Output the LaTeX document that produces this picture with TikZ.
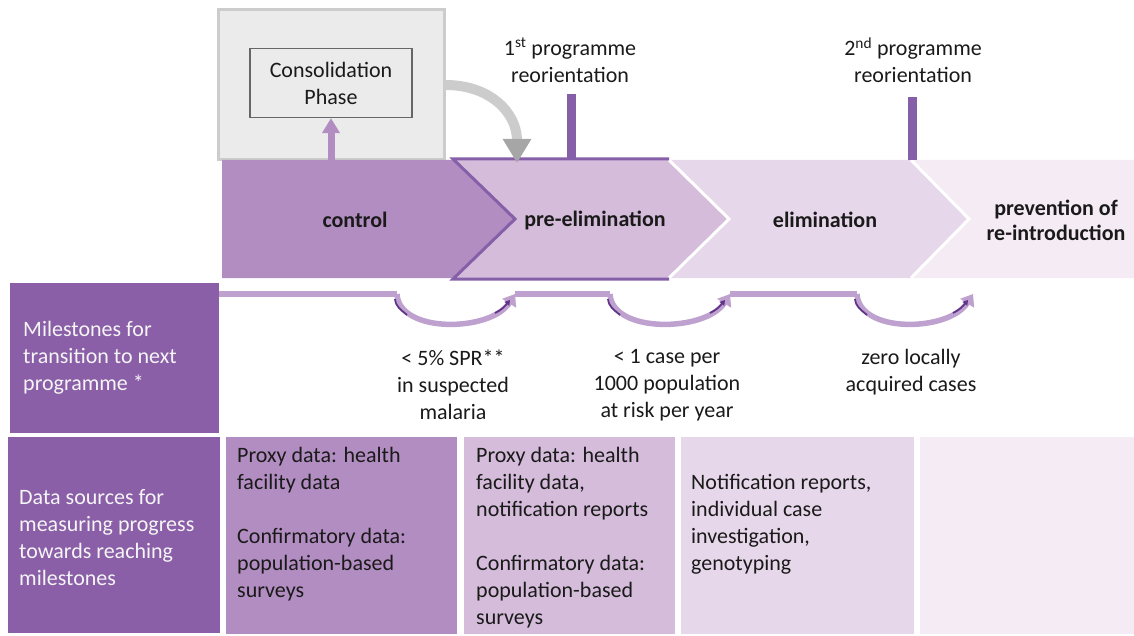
\documentclass[tikz,border=0pt]{standalone}
\usepackage{fontspec}
\setmainfont{Carlito}
\usepackage{xcolor}
\usetikzlibrary{arrows.meta,positioning,calc}

\definecolor{headpurple}{HTML}{8A5FA8}
\definecolor{ctrlpurple}{HTML}{B28DC1}
\definecolor{prepurple}{HTML}{D4BCDA}
\definecolor{elimpurple}{HTML}{E7D7EA}
\definecolor{prevpurple}{HTML}{F5EBF4}
\definecolor{edgepurple}{HTML}{8560A8}
\definecolor{arcpurple}{HTML}{BFA1CF}
\definecolor{arcdark}{HTML}{5F3489}
\definecolor{consolgray}{HTML}{EBEBEB}
\definecolor{inktext}{HTML}{1A1A1A}

\begin{document}
\begin{tikzpicture}[
  x=1pt, y=-1pt,
  every node/.style={font=\fontsize{22}{27}\selectfont, text=inktext},
  consolbox/.style={draw=black!20, line width=3pt, fill=consolgray, minimum width=226pt, minimum height=150pt},
  phasebox/.style={draw=black!60, line width=1.2pt, fill=consolgray, minimum width=162pt, minimum height=69pt, align=center},
  bandtext/.style={font=\fontsize{22}{25}\selectfont\bfseries, align=center},
  reotext/.style={align=center},
  reobar/.style={edgepurple, line width=9pt},
  headbox/.style={fill=headpurple, inner sep=0pt},
  headtext/.style={text=white!96!black, align=left, anchor=west, inner sep=0pt},
  cell/.style={minimum height=197pt, inner sep=0pt},
  celltext/.style={align=left, anchor=north west, inner sep=0pt},
  miletext/.style={align=center},
  milearc/.style={arcpurple, line width=5.5pt, -{Triangle[width=16pt,length=11pt]}},
  arcshade/.style={arcdark, line width=1.8pt},
  uparrow/.style={ctrlpurple, line width=7pt, -{Triangle[width=17pt,length=15pt]}},
  grayarrow/.style={black!20, line width=10pt, -{Triangle[width=27pt,length=24pt,color=black!35]}}
]
  \useasboundingbox (0,0) rectangle (1134,636);

  % Consolidation phase
  \node[consolbox] (consol) at (331,85) {};
  \node[phasebox] (phase) at (331,83) {Consolidation\\Phase};

  % Programme band
  \fill[ctrlpurple] (222,160) -- (453,160) -- (515,219) -- (453,278) -- (222,278) -- cycle;
  \fill[prepurple] (453,160) -- (669,160) -- (729,219) -- (669,278) -- (453,278) -- (515,219) -- cycle;
  \fill[elimpurple] (669,160) -- (911,160) -- (969,219) -- (911,278) -- (669,278) -- (729,219) -- cycle;
  \fill[prevpurple] (911,160) -- (1134,160) -- (1134,278) -- (911,278) -- (969,219) -- cycle;
  \draw[white, line width=3pt] (669,160) -- (729,219) -- (669,278);
  \draw[white, line width=3pt] (911,160) -- (969,219) -- (911,278);
  \draw[edgepurple, line width=3pt] (669,159) -- (453,159) -- (515,219) -- (453,279) -- (669,279);

  \node[bandtext] (control) at (355,220) {control};
  \node[bandtext] (preelim) at (595,220) {pre-elimination};
  \node[bandtext] (elim) at (825,220) {elimination};
  \node[bandtext] (prev) at (1056,220) {prevention of\\re-introduction};

  % Arrows to and from consolidation
  \coordinate (ctrltop) at (331,160);
  \coordinate (grayend) at (517,163);
  \draw[uparrow] (ctrltop) -- (phase.south);
  \draw[grayarrow] (consol.east) .. controls +(45,0) and +(0,-50) .. (grayend);

  % Programme reorientations
  \node[reotext] (reo1) at (570,60) {1\textsuperscript{st} programme\\reorientation};
  \node[reotext] (reo2) at (913,60) {2\textsuperscript{nd} programme\\reorientation};
  \coordinate (reo1bar) at (571.5,94);
  \coordinate (reo2bar) at (912.5,97);
  \draw[reobar] (reo1bar) -- (reo1bar |- 0,158);
  \draw[reobar] (reo2bar) -- (reo2bar |- 0,160);

  % Row headers
  \node[headbox, minimum width=209pt, minimum height=150pt] (milebox) at (114.5,358) {};
  \node[headbox, minimum width=212pt, minimum height=196pt] (databox) at (114,535) {};
  \node[headtext] (miletext) at (23,358) {Milestones for\\transition to next\\programme *};
  \node[headtext] (datatext) at (19,538) {Data sources for\\measuring progress\\towards reaching\\milestones};

  % Milestone arcs
  \coordinate (mstart) at (milebox.east |- 0,294);
  \foreach \n/\a/\b in {1/397/515, 2/610/730, 3/857/973} {
    \coordinate (ms\n a) at (\a,294);
    \coordinate (ms\n b) at (\b,294);
    \draw[milearc] (ms\n a) .. controls +(2,40) and +(-24,38) .. (ms\n b);
    \draw[arcshade] ($(ms\n a)+(-2,5)$) .. controls +(1,8) and +(-7,-6) .. ($(ms\n a)+(10,21)$);
    \draw[arcshade, -{Triangle[width=6pt,length=5pt]}] ($(ms\n b)+(-20,19)$) .. controls +(8,-4) and +(-5,6) .. ($(ms\n b)+(-5,6)$);
  }
  \draw[arcpurple, line width=5.5pt] (mstart) -- (ms1a);
  \draw[arcpurple, line width=5.5pt] (ms1b) -- (ms2a);
  \draw[arcpurple, line width=5.5pt] (ms2b) -- (ms3a);

  \node[miletext] (mile1) at (453,385) {< 5\% SPR**\\in suspected\\malaria};
  \node[miletext] (mile2) at (667,385) {< 1 case per\\1000 population\\at risk per year};
  \node[miletext] (mile3) at (911,372) {zero locally\\acquired cases};

  % Data source cells
  \node[cell, fill=ctrlpurple, minimum width=231pt] (ctrlcell) at (341.5,535.5) {};
  \node[cell, fill=prepurple, minimum width=211pt] (precell) at (569.5,535.5) {};
  \node[cell, fill=elimpurple, minimum width=233pt] (elimcell) at (797.5,535.5) {};
  \node[cell, fill=prevpurple, minimum width=214pt] (prevcell) at (1027,535.5) {};

  \node[celltext] (ctrldata) at (237,447) {Proxy data: health\\facility data\\[27pt]Confirmatory data:\\population-based\\surveys};
  \node[celltext] (predata) at (476,447) {Proxy data: health\\facility data,\\notification reports\\[27pt]Confirmatory data:\\population-based\\surveys};
  \node[celltext] (elimdata) at (691,474) {Notification reports,\\individual case\\investigation,\\genotyping};
\end{tikzpicture}
\end{document}
